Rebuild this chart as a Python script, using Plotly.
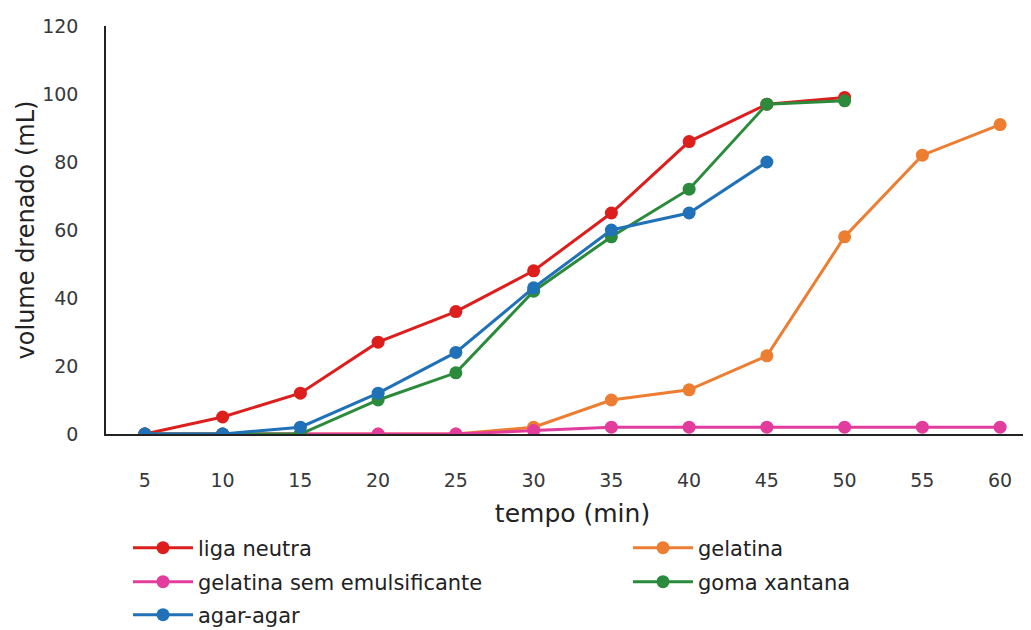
import plotly.graph_objects as go

tempo = ["5", "10", "15", "20", "25", "30", "35", "40", "45", "50", "55", "60"]
liga_neutra = [0, 5, 12, 27, 36, 48, 65, 86, 97, 99]
gelatina = [0, 0, 0, 0, 0, 2, 10, 13, 23, 58, 82, 91]
gelatina_sem = [0, 0, 0, 0, 0, 1, 2, 2, 2, 2, 2, 2]
goma_xantana = [0, 0, 0, 10, 18, 42, 58, 72, 97, 98]
agar_agar = [0, 0, 2, 12, 24, 43, 60, 65, 80]
y_ticks = [0, 20, 40, 60, 80, 100, 120]

series = [
    ("liga neutra", liga_neutra, "#dc1f1d", "legend"),
    ("gelatina", gelatina, "#ed7d31", "legend2"),
    ("gelatina sem emulsificante", gelatina_sem, "#e23c9c", "legend3"),
    ("goma xantana", goma_xantana, "#2b8a3b", "legend4"),
    ("agar-agar", agar_agar, "#2071b7", "legend5"),
]
order = [1, 2, 0, 3, 4]  # draw order

fig = go.Figure()
for i in order:
    name, vals, col, lg = series[i]
    fig.add_trace(go.Scatter(
        x=tempo[:len(vals)], y=vals, name=name, mode="lines+markers",
        line=dict(color=col, width=3), marker=dict(color=col, size=13),
        legend=lg,
    ))

font = "DejaVu Sans, sans-serif"
leg_font = dict(size=21, color="#222", family=font)

# plot area (figure coords): left 98, top 18, height 408, width 933
def px_x(p):
    return (p - 106) / 933.0

def px_y(p):
    return (434 - p) / 408.0

def leg(x, y):
    return dict(x=px_x(x), y=px_y(y), xanchor="left", yanchor="middle", font=leg_font,
                bgcolor="rgba(0,0,0,0)", itemwidth=60)

fig.update_layout(
    width=1031, height=630,
    margin=dict(l=98, r=0, t=18, b=204),
    paper_bgcolor="white", plot_bgcolor="white",
    font=dict(family=font, size=19, color="#333"),
    showlegend=True,
    legend=leg(128, 548),
    legend2=leg(628, 548),
    legend3=leg(128, 582),
    legend4=leg(628, 582),
    legend5=leg(128, 615),
    xaxis=dict(type="category", categoryorder="array", categoryarray=tempo,
               range=[-0.5, 11.5],
               showline=True, linecolor="#222", linewidth=1.5, showgrid=False,
               ticks="", ticklabelstandoff=28, tickfont=dict(size=19, color="#383838"),
               automargin=False,
               title=dict(text="tempo (min)", font=dict(size=25, color="#222"), standoff=15)),
    yaxis=dict(range=[0, 120], tickvals=y_ticks, showline=True, linecolor="#222", linewidth=1.5,
               showgrid=False, zeroline=False, ticks="", ticklabelstandoff=22,
               tickfont=dict(size=19, color="#383838"), automargin=False,
               title=dict(text="volume drenado (mL)", font=dict(size=24, color="#222"), standoff=1)),
)

fig.write_html("out.html")
